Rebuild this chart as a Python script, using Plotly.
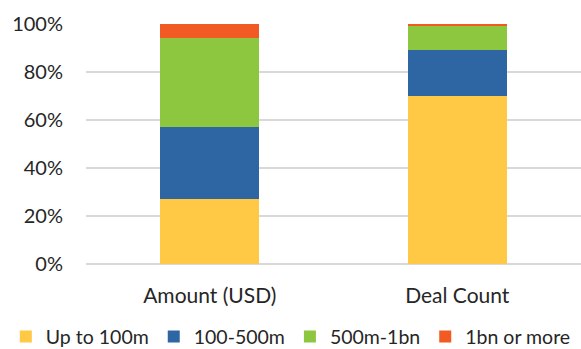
import plotly.graph_objects as go

categories = ["Amount (USD)", "Deal Count"]
series_names = ["Up to 100m", "100-500m", "500m-1bn", "1bn or more"]
up_to_100m = [27, 70]
m100_500 = [30, 19]
m500_1bn = [37, 10]
bn1_more = [6, 1]
colors = ["#FFC845", "#2E66A4", "#8DC63F", "#F15A22"]
tick_vals = [0, 20, 40, 60, 80, 100]
tick_text = ["0%", "20%", "40%", "60%", "80%", "100%"]

values = [up_to_100m, m100_500, m500_1bn, bn1_more]

fig = go.Figure()
for name, vals, col in zip(series_names, values, colors):
    fig.add_trace(go.Bar(x=categories, y=vals, name=name, marker_color=col,
                         marker_line_width=0, width=0.4))

fam = "Lato, Carlito, Open Sans, sans-serif"
txt = "#262626"
fig.update_layout(
    barmode="stack",
    width=581, height=349,
    margin=dict(l=86, r=0, t=24, b=85, autoexpand=False),
    plot_bgcolor="white", paper_bgcolor="white",
    font=dict(family=fam, size=20, color=txt),
    showlegend=True,
    legend=dict(orientation="h", x=-0.162, xanchor="left", y=-0.385, yanchor="bottom",
                traceorder="normal", font=dict(family=fam, size=19.5, color=txt),
                itemwidth=30, bgcolor="rgba(0,0,0,0)"),
    xaxis=dict(showgrid=False, showline=False, ticks="", ticklabelstandoff=17,
               tickfont=dict(family=fam, size=21, color=txt)),
    yaxis=dict(range=[0, 100], tickvals=tick_vals, ticktext=tick_text,
               showgrid=True, gridcolor="#D9D9D9", gridwidth=1.5,
               zeroline=True, zerolinecolor="#D9D9D9", zerolinewidth=1.5,
               ticks="", ticklabelstandoff=22,
               tickfont=dict(family=fam, size=20, color=txt)),
)
fig.write_html("out.html")
